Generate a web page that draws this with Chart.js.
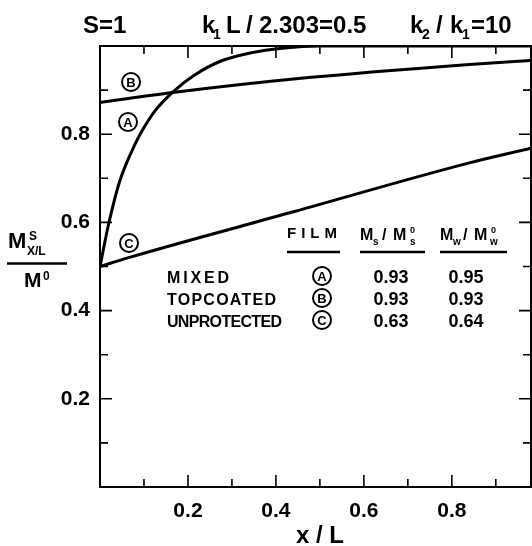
<!DOCTYPE html>
<html>
<head>
<meta charset="utf-8">
<script src="https://cdn.jsdelivr.net/npm/chart.js@4.4.1/dist/chart.umd.min.js"></script>
<style>
  html, body { margin: 0; padding: 0; background: #fff; }
  #wrap { width: 532px; height: 546px; position: relative; }
</style>
</head>
<body>
<div id="wrap"><canvas id="chart"></canvas></div>
<script>
// data
const X_MAX = 0.98;
const mixedX = [0, 0.02, 0.045, 0.08, 0.1, 0.125, 0.165, 0.215, 0.275, 0.345, 0.415, 0.5, 0.98];
const mixedY = [0.5, 0.598, 0.694, 0.778, 0.815, 0.853, 0.895, 0.934, 0.966, 0.985, 0.995, 1.0, 1.0];
const topcoatedX = [0, 0.17, 0.44, 0.84, 0.98];
const topcoatedY = [0.872, 0.895, 0.925, 0.958, 0.967];
const unprotectedX = [0, 0.065, 0.44, 0.84, 0.98];
const unprotectedY = [0.5, 0.52, 0.624, 0.735, 0.768];

const X_TICKS = [0.2, 0.4, 0.6, 0.8];
const X_MINOR = [0.1, 0.3, 0.5, 0.7, 0.9];
const Y_TICKS = [0.2, 0.4, 0.6, 0.8];
const Y_MINOR = [0.1, 0.3, 0.5, 0.7, 0.9];

const FILMS = ["MIXED", "TOPCOATED", "UNPROTECTED"];
const FILM_KEYS = ["A", "B", "C"];
const MS_RATIO = ["0.93", "0.93", "0.63"];
const MW_RATIO = ["0.95", "0.93", "0.64"];

const FONT = '"Liberation Sans", Arial, sans-serif';

function pts(xs, ys) {
  return xs.map((x, i) => ({ x, y: ys[i] }));
}

function txt(ctx, s, x, y, size, align, fitWidth) {
  ctx.font = `bold ${size}px ${FONT}`;
  ctx.textAlign = align || "left";
  ctx.textBaseline = "alphabetic";
  ctx.letterSpacing = "0px";
  if (fitWidth) {
    const w = ctx.measureText(s).width;
    const sp = (fitWidth - w) / Math.max(1, s.length - 1);
    ctx.letterSpacing = sp.toFixed(2) + "px";
  }
  ctx.fillText(s, x, y);
  ctx.letterSpacing = "0px";
}

function circled(ctx, letter, cx, cy) {
  ctx.beginPath();
  ctx.arc(cx, cy, 9, 0, Math.PI * 2);
  ctx.lineWidth = 2;
  ctx.stroke();
  ctx.font = `bold 13px ${FONT}`;
  ctx.textAlign = "center";
  ctx.textBaseline = "middle";
  ctx.fillText(letter, cx, cy + 1);
}

const frameAndNotes = {
  id: "frameAndNotes",
  afterDatasetsDraw(chart) {
    const { ctx, chartArea: a, scales: { x, y } } = chart;
    ctx.save();
    ctx.strokeStyle = "#000";
    ctx.fillStyle = "#000";

    // frame
    ctx.lineWidth = 2;
    ctx.strokeRect(a.left, a.top, a.right - a.left, a.bottom - a.top);

    // inward tick marks on all four sides
    ctx.lineWidth = 1.6;
    const tickX = (v, len) => {
      const px = x.getPixelForValue(v);
      ctx.beginPath();
      ctx.moveTo(px, a.bottom); ctx.lineTo(px, a.bottom - len);
      ctx.moveTo(px, a.top); ctx.lineTo(px, a.top + len);
      ctx.stroke();
    };
    const tickY = (v, len) => {
      const py = y.getPixelForValue(v);
      ctx.beginPath();
      ctx.moveTo(a.left, py); ctx.lineTo(a.left + len, py);
      ctx.moveTo(a.right, py); ctx.lineTo(a.right - len, py);
      ctx.stroke();
    };
    X_TICKS.forEach(v => tickX(v, 12));
    X_MINOR.forEach(v => tickX(v, 8));
    Y_TICKS.forEach(v => tickY(v, 12));
    Y_MINOR.forEach(v => tickY(v, 8));

    // header line
    txt(ctx, "S=1", 83, 33, 24);
    txt(ctx, "k", 202, 33, 24);
    txt(ctx, "1", 213, 39, 14);
    txt(ctx, "L", 226, 33, 24);
    txt(ctx, "/", 246, 33, 24);
    txt(ctx, "2.303=0.5", 259, 33, 24);
    txt(ctx, "k", 410, 33, 24);
    txt(ctx, "2", 422, 39, 14);
    txt(ctx, "/", 436, 33, 24);
    txt(ctx, "k", 450, 33, 24);
    txt(ctx, "1", 462, 39, 14);
    txt(ctx, "=10", 471, 33, 24);

    // y-axis title as a fraction
    txt(ctx, "M", 8, 248, 22);
    txt(ctx, "S", 29, 240, 12);
    txt(ctx, "X/L", 27, 255, 12);
    ctx.lineWidth = 2.5;
    ctx.beginPath(); ctx.moveTo(7, 263.5); ctx.lineTo(67, 263.5); ctx.stroke();
    txt(ctx, "M", 24, 287, 21);
    txt(ctx, "0", 43, 280, 12);

    // x-axis title
    txt(ctx, "x / L", 320, 543, 24, "center");

    // curve keys
    circled(ctx, "B", 131, 82);
    circled(ctx, "A", 128, 122);
    circled(ctx, "C", 129, 243);

    // table
    txt(ctx, "FILM", 287, 238, 15, "left", 50);
    txt(ctx, "M", 360, 240, 16); txt(ctx, "s", 373, 245, 10);
    txt(ctx, "/", 382, 240, 16);
    txt(ctx, "M", 393, 240, 16); txt(ctx, "0", 410, 233, 9); txt(ctx, "s", 410, 245, 10);
    txt(ctx, "M", 440, 240, 16); txt(ctx, "w", 453, 245, 10);
    txt(ctx, "/", 463, 240, 16);
    txt(ctx, "M", 474, 240, 16); txt(ctx, "0", 491, 233, 9); txt(ctx, "w", 490, 245, 10);
    ctx.lineWidth = 2.5;
    [[287, 340], [360, 425], [440, 507]].forEach(([x0, x1]) => {
      ctx.beginPath(); ctx.moveTo(x0, 252); ctx.lineTo(x1, 252); ctx.stroke();
    });
    const rowW = [62, 109, 115];
    FILMS.forEach((f, i) => {
      const base = 283 + i * 22;
      txt(ctx, f, 167, base, 16, "left", rowW[i]);
      circled(ctx, FILM_KEYS[i], 322, base - 7);
      txt(ctx, MS_RATIO[i], 391, base, 18, "center");
      txt(ctx, MW_RATIO[i], 466, base, 18, "center");
    });

    ctx.restore();
  }
};

const lineStyle = {
  borderColor: "#000",
  borderWidth: 3,
  pointRadius: 0,
  fill: false,
  cubicInterpolationMode: "monotone",
};

new Chart(document.getElementById("chart"), {
  type: "line",
  data: {
    datasets: [
      { label: "MIXED", data: pts(mixedX, mixedY), ...lineStyle },
      { label: "TOPCOATED", data: pts(topcoatedX, topcoatedY), ...lineStyle },
      { label: "UNPROTECTED", data: pts(unprotectedX, unprotectedY), ...lineStyle },
    ],
  },
  options: {
    responsive: true,
    maintainAspectRatio: false,
    animation: false,
    layout: { padding: { top: 46, right: 1, left: 0, bottom: 0 } },
    plugins: { legend: { display: false }, tooltip: { enabled: false } },
    scales: {
      x: {
        type: "linear",
        min: 0,
        max: X_MAX,
        border: { display: false },
        grid: { display: false, drawTicks: false },
        afterBuildTicks: s => { s.ticks = X_TICKS.map(v => ({ value: v })); },
        afterFit: s => { s.height = 59; },
        ticks: {
          color: "#000",
          padding: 12,
          maxRotation: 0,
          autoSkip: false,
          font: { family: FONT, size: 21, weight: "bold" },
          callback: v => v.toFixed(1),
        },
      },
      y: {
        type: "linear",
        min: 0,
        max: 1,
        border: { display: false },
        grid: { display: false, drawTicks: false },
        afterBuildTicks: s => { s.ticks = Y_TICKS.map(v => ({ value: v })); },
        afterFit: s => { s.width = 100; },
        ticks: {
          color: "#000",
          padding: 10,
          autoSkip: false,
          font: { family: FONT, size: 21, weight: "bold" },
          callback: v => v.toFixed(1),
        },
      },
    },
  },
  plugins: [frameAndNotes],
});
</script>
</body>
</html>
